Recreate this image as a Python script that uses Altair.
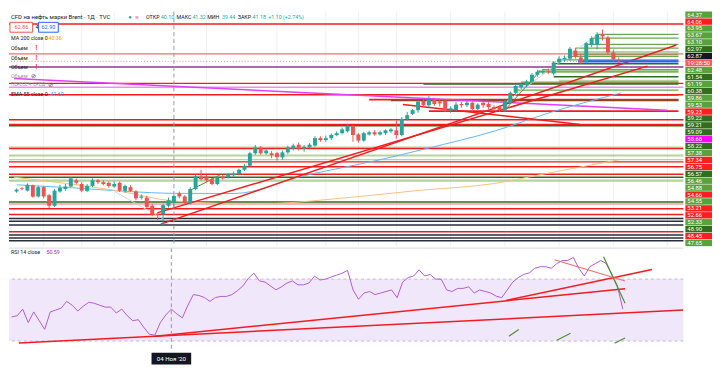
import json
import altair as alt
import pandas as pd

FONT = "Roboto"

# ---------------- time axis ----------------
tick_idx = [0, 7, 13, 30, 43, 52, 58, 65, 75, 85, 95, 105, 115]
tick_lbl = ["Окт", "12", "20", "16", "Дек", "14", "22", "2021", "18", "Фев", "15", "Мар", "15"]
X_DOMAIN = [-5.49, 117.0]
cross_idx = 24
cross_label = "04 Ноя '20"

# ---------------- candles (trading-day index, Oct 1 2020 = 0) ----------------
cdl_idx = list(range(-5, 107))
cdl_open = [41.90, 42.40, 42.04, 42.90, 41.10,
            42.60, 41.30, 39.60, 41.90, 42.30, 42.70, 43.70, 43.10, 42.00, 42.80,
            43.70, 43.40, 43.30, 42.70, 43.30, 42.00, 42.60, 41.90, 40.90, 40.90,
            39.60, 38.30, 38.20, 39.60, 40.10, 41.60, 41.10, 40.00, 42.30, 44.30,
            44.35, 43.90, 43.10, 44.35, 44.20, 44.50, 44.70, 45.40, 46.05, 48.06,
            49.00, 48.06, 48.06, 48.06, 47.40, 48.20, 48.80, 49.45, 48.80, 49.00,
            49.30, 50.50, 50.20, 50.50, 51.00, 51.30, 51.60, 52.50, 51.10, 50.10,
            51.10, 51.45, 51.10, 51.30, 51.60, 51.75, 51.00, 53.60, 54.40, 55.00,
            56.50, 55.80, 56.70, 56.40, 56.50, 55.00, 55.00, 56.00, 55.80, 56.20,
            55.20, 56.20, 56.00, 55.50, 55.50, 55.00, 56.20, 57.80, 58.70, 59.00,
            59.60, 60.70, 61.10, 61.30, 60.90, 62.70, 63.20, 63.30, 64.60, 63.50,
            62.70, 65.50, 65.50, 67.20, 66.70, 64.30, 63.00]
cdl_close = [42.20, 42.30, 42.97, 41.07, 42.60,
             41.10, 39.60, 42.04, 42.50, 42.70, 44.00, 43.30, 42.04, 42.80, 43.70,
             43.40, 43.10, 42.80, 43.10, 42.04, 42.80, 42.00, 40.80, 41.10, 39.40,
             38.20, 38.20, 39.70, 40.50, 41.18, 41.10, 40.00, 42.30, 44.35, 43.90,
             43.70, 43.10, 44.20, 44.00, 44.70, 44.80, 45.40, 46.05, 48.06, 49.00,
             48.06, 48.50, 47.75, 47.44, 48.20, 49.00, 49.30, 48.80, 49.10, 49.45,
             50.50, 50.20, 50.50, 51.00, 51.30, 51.90, 52.50, 51.00, 50.10, 51.30,
             51.45, 51.10, 51.45, 51.75, 51.90, 51.00, 53.60, 54.20, 55.00, 56.40,
             55.80, 56.70, 56.00, 56.10, 55.00, 55.30, 55.90, 55.80, 56.20, 55.20,
             55.90, 55.80, 55.50, 55.20, 55.00, 56.50, 57.80, 58.90, 59.20, 59.60,
             60.70, 61.20, 61.30, 61.10, 62.70, 63.30, 63.40, 64.90, 63.60, 62.70,
             65.80, 66.60, 67.20, 66.90, 64.30, 63.20, 62.87]
cdl_high = [42.40, 42.60, 43.20, 43.00, 42.80,
            42.80, 41.50, 42.30, 43.00, 43.10, 44.20, 44.00, 43.40, 43.10, 44.00,
            43.90, 43.70, 43.50, 43.50, 43.50, 43.00, 42.90, 42.10, 41.40, 41.20,
            39.90, 38.60, 39.90, 40.90, 41.32, 41.90, 41.30, 42.60, 44.60, 45.40,
            44.60, 44.10, 44.40, 44.60, 44.90, 45.10, 45.60, 46.30, 48.30, 49.40,
            49.20, 48.80, 48.40, 48.30, 48.50, 49.30, 49.60, 49.80, 49.40, 49.70,
            50.80, 50.80, 50.90, 51.20, 51.60, 52.20, 52.80, 52.60, 51.30, 51.50,
            51.70, 51.80, 51.70, 51.90, 52.10, 53.30, 53.90, 54.70, 55.20, 56.60,
            56.80, 57.30, 56.90, 56.70, 56.70, 55.60, 56.30, 56.30, 56.50, 56.40,
            56.10, 56.40, 56.30, 55.80, 55.80, 56.70, 58.00, 59.10, 59.50, 59.90,
            61.00, 61.50, 61.60, 61.70, 62.90, 63.70, 63.80, 65.20, 65.00, 64.00,
            66.00, 66.90, 67.60, 68.00, 67.00, 64.80, 63.50]
cdl_low = [41.70, 42.10, 41.90, 40.90, 40.90,
           40.80, 39.20, 39.40, 41.70, 42.00, 42.60, 43.00, 41.80, 41.80, 42.60,
           43.10, 42.90, 42.50, 42.50, 41.80, 41.70, 41.80, 40.50, 40.60, 39.20,
           37.90, 37.30, 36.30, 39.30, 39.44, 40.80, 39.80, 39.80, 42.10, 43.60,
           43.40, 42.90, 42.90, 43.80, 44.00, 44.30, 44.50, 45.20, 45.90, 47.80,
           47.80, 47.80, 47.30, 46.90, 47.00, 47.90, 48.50, 48.50, 48.30, 48.70,
           49.10, 49.90, 49.90, 50.20, 50.80, 51.10, 51.40, 49.90, 49.80, 49.90,
           50.90, 50.90, 50.90, 51.00, 51.30, 50.40, 50.80, 53.30, 54.20, 54.60,
           55.50, 55.50, 55.70, 55.60, 54.70, 54.60, 54.80, 55.40, 55.50, 54.80,
           55.00, 55.40, 55.20, 54.90, 54.70, 54.70, 56.00, 57.60, 58.40, 58.70,
           59.40, 60.40, 60.80, 60.80, 60.60, 62.40, 62.80, 63.00, 63.30, 62.40,
           62.50, 65.20, 64.80, 66.20, 64.00, 62.80, 62.60]

# ---------------- moving averages ----------------
ema_idx = [-4.96, 5.13, 15.75, 24.07, 35.2, 47.6, 61.8, 70.6, 83.0, 93.6, 106.4]
ema_val = [42.97, 42.50, 41.89, 41.60, 41.58, 44.36, 46.98, 48.83, 51.61, 54.69, 57.78]
ma_idx = [-5.49, 14.0, 24.07, 38.8, 56.5, 68.9, 82.5, 93.6, 106.0]
ma_val = [44.20, 41.95, 40.36, 39.88, 40.95, 42.05, 43.12, 44.96, 47.00]

# ---------------- horizontal levels ----------------
red_full = [68.89, 59.32, 57.47, 53.46, 52.69, 48.83, 46.67, 45.90, 44.66, 39.11, 38.18, 35.40]
red_short_p = [56.70, 54.85]
red_short_from = [60.0, 71.0]
lightred_full = [64.06, 39.88]
purple_full = [61.95]
pink_full = [58.71]
dgreen_full = [52.50, 44.20, 40.19]
dgreen_short_p = [62.48, 60.38, 59.22, 56.57]
dgreen_short_from = [94.0, 94.0, 70.0, 64.0]
green_short_p = [67.20, 66.60, 65.60, 65.00, 64.37, 63.95, 63.67, 63.10, 62.97, 61.54, 61.19, 59.53, 58.22, 57.38]
green_short_from = [102.0, 101.0, 100.0, 98.0, 97.0, 98.0, 97.0, 95.0, 100.0, 92.0, 91.0, 88.0, 87.0, 86.0]
black_full = [37.56, 37.10, 36.50, 34.90, 34.40, 33.95]
band_lo = [47.55, 46.95, 43.45, 48.95]
band_hi = [47.85, 47.15, 43.85, 49.15]
sband_lo = [61.00, 59.30]
sband_hi = [61.50, 59.90]
sband_from = [91.0, 95.0]
last_price = 62.87
last_ray_from = 98.5

# ---------------- trend lines on price ----------------
red_tl_x1 = [21.06, 21.6, 66.2]
red_tl_p1 = [38.49, 36.64, 55.93]
red_tl_x2 = [111.3, 116.6, 98.9]
red_tl_p2 = [62.10, 65.50, 52.69]
mag_tl = [-5.49, 60.10, 114.9, 55.00]
grn_tl_x1 = [26.9, 85.3]
grn_tl_p1 = [42.04, 55.31]
grn_tl_x2 = [32.7, 91.5]
grn_tl_p2 = [44.66, 61.33]
gray_tl_x1 = [83.9, 13.1]
gray_tl_p1 = [55.47, 41.88]
gray_tl_x2 = [102.5, 22.5]
gray_tl_p2 = [67.50, 37.26]

# ---------------- price scale labels (stacked) ----------------
lbl_text = ["64.37", "64.06", "63.95", "63.67", "63.10", "62.97", "62.87", "19:28:50", "62.48", "61.54",
            "61.19", "60.38", "59.86", "59.53", "59.23", "59.22", "59.21", "59.09", "58.68", "58.22",
            "57.38", "57.34", "56.75", "56.57", "56.46", "54.88", "54.66", "54.55", "53.21", "52.66",
            "52.33", "48.90", "48.45", "47.65"]
lbl_kind = ["g", "r", "g", "g", "g", "dg", "cur", "cnt", "g", "dg",
            "g", "dg", "g", "g", "r", "dg", "dg", "dg", "m", "dg",
            "g", "r", "r", "dg", "g", "g", "r", "g", "r", "r",
            "g", "dg", "r", "g"]

# ---------------- RSI ----------------
rsi_val = [45.6, 46.3, 50.6, 41.9, 48.8,
           43.1, 37.5, 48.8, 50.0, 51.3, 55.6, 53.1, 49.4, 52.5, 55.0,
           54.4, 53.1, 51.9, 51.9, 48.1, 50.6, 46.3, 43.1, 43.8, 38.8,
           34.4, 33.8, 41.9, 46.9, 50.6, 47.5, 45.0, 53.1, 60.0, 59.4,
           58.1, 55.6, 58.1, 58.8, 58.8, 60.0, 62.5, 65.6, 70.6, 73.8,
           68.8, 68.1, 65.6, 63.1, 65.0, 67.5, 68.8, 66.3, 66.3, 67.5,
           71.9, 69.4, 70.0, 71.3, 72.5, 73.8, 75.6, 63.0, 57.0, 61.0,
           62.0, 60.0, 61.0, 62.0, 63.0, 58.0, 68.0, 71.0, 72.0, 76.0,
           72.0, 73.0, 70.0, 70.0, 63.0, 62.0, 64.0, 64.0, 65.0, 61.0,
           63.0, 62.0, 61.0, 59.0, 58.0, 63.0, 68.0, 71.0, 73.0, 74.0,
           77.0, 78.0, 78.0, 77.0, 80.0, 82.0, 82.0, 84.0, 77.0, 72.0,
           78.0, 80.0, 82.0, 80.0, 73.0, 65.6, 50.59]
rsi_ticks = [30, 40, 50, 60, 70, 80]
rsi_red_x1 = [-3.7, 21.06, 84.8]
rsi_red_v1 = [28.75, 33.1, 56.25]
rsi_red_x2 = [117.0, 106.4, 111.3]
rsi_red_v2 = [50.0, 63.75, 76.25]
rsi_salmon = [93.6, 82.5, 106.4, 68.75]
rsi_grn_x1 = [102.5, 85.3, 94.0, 104.5]
rsi_grn_v1 = [84.4, 33.1, 30.5, 28.5]
rsi_grn_x2 = [106.4, 87.1, 96.5, 106.4]
rsi_grn_v2 = [54.4, 37.5, 35.0, 32.0]

# =====================================================================
W_MAIN, H_PRICE, W_LBL, H_RSI = 684, 238, 28, 103
P_DOMAIN = [33.09, 70.90]
R_DOMAIN = [24.4, 90.0]
xs = alt.Scale(domain=X_DOMAIN, nice=False, zero=False)
ys = alt.Scale(domain=P_DOMAIN, nice=False, zero=False)
rs = alt.Scale(domain=R_DOMAIN, nice=False, zero=False)
XN = dict(scale=xs, axis=None)
FS = 5.4


def one():
    return pd.DataFrame({"a": [0]})


def hfull(vals, color, w=1.5, dash=None, op=1.0):
    kw = dict(color=color, strokeWidth=w, opacity=op)
    if dash:
        kw["strokeDash"] = dash
    return alt.Chart(pd.DataFrame({"p": vals})).mark_rule(**kw).encode(
        y=alt.Y("p:Q", scale=ys, axis=None))


def hshort(vals, starts, color, w=1.5, op=1.0):
    df = pd.DataFrame({"p": vals, "x1": starts})
    df["x2"] = X_DOMAIN[1]
    return alt.Chart(df).mark_rule(color=color, strokeWidth=w, opacity=op, clip=True).encode(
        x=alt.X("x1:Q", **XN), x2="x2:Q", y=alt.Y("p:Q", scale=ys, axis=None))


def segs(x1, p1, x2, p2, color, yscale, w=1.5, dash=None, op=1.0):
    df = pd.DataFrame({"x1": x1, "p1": p1, "x2": x2, "p2": p2})
    kw = dict(color=color, strokeWidth=w, opacity=op, clip=True)
    if dash:
        kw["strokeDash"] = dash
    return alt.Chart(df).mark_rule(**kw).encode(
        x=alt.X("x1:Q", **XN), x2="x2:Q",
        y=alt.Y("p1:Q", scale=yscale, axis=None), y2="p2:Q")


def txt(s, x, y, color="#131722", size=FS, weight="normal", align="left"):
    return alt.Chart(one()).mark_text(text=s, font=FONT, fontSize=size, color=color,
                                      fontWeight=weight, align=align, baseline="middle").encode(
        x=alt.value(x), y=alt.value(y))


def box(x1, x2, y1, y2, stroke=None, fill=None):
    kw = dict(strokeWidth=1)
    kw["stroke"] = stroke if stroke else "transparent"
    kw["fill"] = fill if fill else "transparent"
    return alt.Chart(one()).mark_rect(**kw).encode(
        x=alt.value(x1), x2=alt.value(x2), y=alt.value(y1), y2=alt.value(y2))


# ---------------- price pane ----------------
vgrid = alt.Chart(pd.DataFrame({"i": tick_idx})).mark_rule(color="#eef0f4", strokeWidth=1).encode(
    x=alt.X("i:Q", **XN))

bands_df = pd.DataFrame({"lo": band_lo, "hi": band_hi})
bands = alt.Chart(bands_df).mark_rect(color="#9dc47e", opacity=0.75).encode(
    y=alt.Y("lo:Q", scale=ys, axis=None), y2="hi:Q")
sb_df = pd.DataFrame({"lo": sband_lo, "hi": sband_hi, "x1": sband_from})
sb_df["x2"] = X_DOMAIN[1]
sbands = alt.Chart(sb_df).mark_rect(color="#9dc47e", opacity=0.75, clip=True).encode(
    x=alt.X("x1:Q", **XN), x2="x2:Q", y=alt.Y("lo:Q", scale=ys, axis=None), y2="hi:Q")

ema = alt.Chart(pd.DataFrame({"i": ema_idx, "v": ema_val})).mark_line(
    color="#64b5f6", strokeWidth=1, clip=True, interpolate="monotone").encode(
    x=alt.X("i:Q", **XN), y=alt.Y("v:Q", scale=ys, axis=None))
ma = alt.Chart(pd.DataFrame({"i": ma_idx, "v": ma_val})).mark_line(
    color="#f6c27a", strokeWidth=1, clip=True, interpolate="monotone").encode(
    x=alt.X("i:Q", **XN), y=alt.Y("v:Q", scale=ys, axis=None))

cdf = pd.DataFrame({"i": cdl_idx, "o": cdl_open, "c": cdl_close, "h": cdl_high, "l": cdl_low})
cond = alt.condition("datum.c >= datum.o", alt.value("#26a69a"), alt.value("#ef5350"))
wick = alt.Chart(cdf).mark_rule(strokeWidth=1).encode(
    x=alt.X("i:Q", **XN), y=alt.Y("l:Q", scale=ys, axis=None), y2="h:Q", color=cond)
body = alt.Chart(cdf).mark_bar(size=4).encode(
    x=alt.X("i:Q", **XN), y=alt.Y("o:Q", scale=ys, axis=None), y2="c:Q", color=cond)

cross_p = alt.Chart(pd.DataFrame({"i": [cross_idx]})).mark_rule(
    color="#9598a1", strokeWidth=1, strokeDash=[4, 3]).encode(x=alt.X("i:Q", **XN))

price_layers = [
    vgrid, bands, sbands,
    hfull(black_full, "#2a2e39", 1.5),
    hfull(dgreen_full, "#2e6b1e", 1.5),
    hshort(dgreen_short_p, dgreen_short_from, "#2e6b1e", 1.5),
    hshort(green_short_p, green_short_from, "#6aa84f", 1.2),
    hfull(red_full, "#f21c1c", 1.5),
    hshort(red_short_p, red_short_from, "#f21c1c", 2),
    hfull(lightred_full, "#f07070", 1.2),
    hfull(purple_full, "#8e3a8e", 1.5),
    hfull(pink_full, "#f48cf4", 1.5),
    segs([mag_tl[0]], [mag_tl[1]], [mag_tl[2]], [mag_tl[3]], "#e040fb", ys, 1.5),
    segs(gray_tl_x1, gray_tl_p1, gray_tl_x2, gray_tl_p2, "#d1d4dc", ys, 1),
    ema, ma,
    segs(red_tl_x1, red_tl_p1, red_tl_x2, red_tl_p2, "#f21c1c", ys, 1.5),
    segs(grn_tl_x1, grn_tl_p1, grn_tl_x2, grn_tl_p2, "#4e8f2f", ys, 1),
    hfull([last_price], "#e58e96", 1, dash=[1, 2]),
    hshort([last_price], [last_ray_from], "#2962ff", 2.2),
    cross_p, wick, body,
    # legend
    txt("CFD на нефть марки Brent · 1Д · TVC", 2, 6, "#131722", 6.0),
    txt("●", 121, 6, "#26a69a", 6.0),
    txt("■", 128, 6, "#f4a6c0", 6.0),
    txt("ОТКР", 139, 6), txt("40.10", 154, 6, "#26a69a"),
    txt("МАКС", 170, 6), txt("41.32", 186, 6, "#26a69a"),
    txt("МИН", 201, 6), txt("39.44", 216, 6, "#26a69a"),
    txt("ЗАКР", 232, 6), txt("41.18", 247, 6, "#26a69a"),
    txt("+1.10 (+2.74%)", 263, 6, "#26a69a"),
    box(1, 24, 11, 21, stroke="#ef5350", fill="white"), txt("62.86", 12.5, 16, "#ef5350", 5.6, align="center"),
    txt("4", 27, 16, "#131722"),
    box(30, 50, 11, 21, stroke="#2962ff", fill="white"), txt("62.90", 40, 16, "#2962ff", 5.6, align="center"),
    txt("MA 200 close 0", 2, 27), txt("40.36", 40, 27, "#ff9800"),
    txt("Объем", 2, 37), txt("!", 27, 37, "#f23645", 6.5, "bold"),
    txt("Объем", 2, 47), txt("!", 27, 47, "#f23645", 6.5, "bold"),
    txt("Объем", 2, 56), txt("!", 27, 56, "#f23645", 6.5, "bold"),
    txt("Объем", 2, 65, "#9598a1"), txt("⊘", 22, 65, "#50535e", 6),
    txt("ПЕРЕСЕЧ. СРЕД.", 2, 75, "#9598a1", 4.6), txt("⊘", 40, 75, "#50535e", 6),
    txt("EMA 55 close 0", 2, 84), txt("41.60", 42, 84, "#2196f3"),
]
price = alt.layer(*price_layers).properties(width=W_MAIN, height=H_PRICE)

# ---------------- price labels column ----------------
kind_color = {"g": "#58a23c", "dg": "#2f6f1c", "r": "#ff1e1e", "m": "#ff00ff",
              "cur": "#131722", "cnt": "#ff5a5a"}
ldf = pd.DataFrame({"t": lbl_text, "k": lbl_kind, "o": list(range(len(lbl_text)))})
ldf["col"] = [kind_color[k] for k in lbl_kind]
ly = alt.Y("o:O", axis=None, scale=alt.Scale(paddingInner=0.08, paddingOuter=0))
lrect = alt.Chart(ldf).mark_rect().encode(
    y=ly, x=alt.value(1), x2=alt.value(W_LBL), color=alt.Color("col:N", scale=None))
ltext = alt.Chart(ldf).mark_text(font=FONT, fontSize=6.0, color="white", align="left", dx=3).encode(
    y=ly, x=alt.value(0), text="t:N")
labels = alt.layer(lrect, ltext).properties(width=W_LBL, height=H_PRICE)

top = alt.hconcat(price, labels, spacing=0)

# ---------------- RSI pane ----------------
rdf = pd.DataFrame({"i": cdl_idx, "v": rsi_val})
label_map = json.dumps({str(k): v for k, v in zip(tick_idx, tick_lbl)}, ensure_ascii=False)
x_axis = alt.Axis(values=tick_idx, labelExpr=f"{label_map}[datum.value]", grid=True,
                  gridColor="#eef0f4", domainColor="#d6d8de", tickColor="#b2b5be", tickSize=3,
                  labelFont=FONT, labelFontSize=6.5, labelColor="#50535e", labelPadding=3,
                  labelFlush=False, title=None)
y_axis = alt.Axis(orient="right", values=rsi_ticks, format=".2f", grid=True, gridColor="#eef0f4",
                  domainColor="#d6d8de", tickColor="#b2b5be", tickSize=3, labelFont=FONT,
                  labelFontSize=6.5, labelColor="#131722", labelPadding=3, title=None)

rband = alt.Chart(pd.DataFrame({"lo": [30], "hi": [70]})).mark_rect(color="#f1e7fb").encode(
    y=alt.Y("lo:Q", scale=rs, axis=None), y2="hi:Q")
rdash = alt.Chart(pd.DataFrame({"v": [30, 70]})).mark_rule(
    color="#c3b6d6", strokeDash=[3, 3], strokeWidth=1).encode(y=alt.Y("v:Q", scale=rs, axis=None))
rline = alt.Chart(rdf).mark_line(color="#b05bcd", strokeWidth=1, clip=True).encode(
    x=alt.X("i:Q", scale=xs, axis=x_axis), y=alt.Y("v:Q", scale=rs, axis=y_axis))
rcross = alt.Chart(pd.DataFrame({"i": [cross_idx]})).mark_rule(
    color="#9598a1", strokeWidth=1, strokeDash=[4, 3]).encode(x=alt.X("i:Q", **XN))
sep = alt.Chart(one()).mark_rule(color="#d6d8de", strokeWidth=1).encode(
    y=alt.value(0), x=alt.value(0), x2=alt.value(W_MAIN))
cdf2 = pd.DataFrame({"i": [cross_idx], "t": [cross_label]})
cdf2["a"] = cdf2["i"] - 3.6
cdf2["b"] = cdf2["i"] + 3.6
cbox = alt.Chart(cdf2).mark_rect(color="#131722").encode(
    x=alt.X("a:Q", **XN), x2="b:Q", y=alt.value(H_RSI + 3), y2=alt.value(H_RSI + 15))
ctext = alt.Chart(cdf2).mark_text(font=FONT, fontSize=6.2, color="white").encode(
    x=alt.X("i:Q", **XN), y=alt.value(H_RSI + 9), text="t:N")

rsi = alt.layer(
    rband, rdash, rline,
    segs(rsi_red_x1, rsi_red_v1, rsi_red_x2, rsi_red_v2, "#f21c1c", rs, 1.5),
    segs([rsi_salmon[0]], [rsi_salmon[1]], [rsi_salmon[2]], [rsi_salmon[3]], "#f07070", rs, 1.2),
    segs(rsi_grn_x1, rsi_grn_v1, rsi_grn_x2, rsi_grn_v2, "#4e8f2f", rs, 1.2),
    rcross, sep, cbox, ctext,
    txt("RSI 14 close", 2, 4), txt("50.59", 38, 4, "#9c27b0"),
).properties(width=W_MAIN, height=H_RSI)

chart = alt.vconcat(top, rsi, spacing=0).properties(padding=0, background="white").configure_view(
    stroke=None)

chart.save("out.html", embed_options={"renderer": "svg", "actions": False})
